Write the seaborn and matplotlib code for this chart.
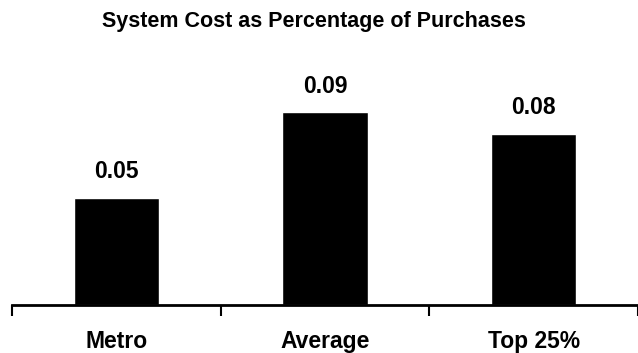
import matplotlib
matplotlib.use("Agg")
import matplotlib.pyplot as plt
import seaborn as sns
import pandas as pd

categories = ["Metro", "Average", "Top 25%"]
values = [0.05, 0.09, 0.08]
value_labels = ["0.05", "0.09", "0.08"]
title = "System Cost as Percentage of Purchases"

sns.set_style("white")
plt.rcParams["font.family"] = ["Liberation Sans", "DejaVu Sans"]
plt.rcParams["text.color"] = "black"
plt.rcParams["xtick.color"] = "black"

df = pd.DataFrame({"group": categories, "cost": values})

fig = plt.figure(figsize=(6.38, 3.53), dpi=100)
ax = fig.add_axes([0.019, 0.136, 0.981, 0.606])

sns.barplot(data=df, x="group", y="cost", color="black", width=0.41,
            saturation=1, ax=ax, zorder=2)

for patch, lab in zip(ax.patches, value_labels):
    ax.text(patch.get_x() + patch.get_width() / 2, patch.get_height() + 0.0122,
            lab, ha="center", va="center", fontsize=16.5, fontweight="bold",
            color="black")

ax.set_xlim(-0.5, 2.5)
ax.set_ylim(0, 0.1)
ax.set_yticks([])
ax.set_xlabel("")
ax.set_ylabel("")

# boundary ticks between groups, labels at group centres
ax.set_xticks([-0.5, 0.5, 1.5, 2.5])
ax.set_xticklabels([])
ax.set_xticks([0, 1, 2], minor=True)
ax.set_xticklabels(categories, minor=True, fontsize=16.5, fontweight="bold",
                   color="black")
ax.tick_params(axis="x", which="major", direction="out", length=8, width=1.5,
               color="black", bottom=True)
ax.tick_params(axis="x", which="minor", length=0, pad=18)

for side in ["top", "right", "left"]:
    ax.spines[side].set_visible(False)
ax.spines["bottom"].set_color("black")
ax.spines["bottom"].set_linewidth(2)

fig.text(314 / 638, 1 - 21 / 353, title, ha="center", va="center",
         fontsize=15.5, fontweight="bold", color="black")

fig.savefig("out.png", dpi=100)
